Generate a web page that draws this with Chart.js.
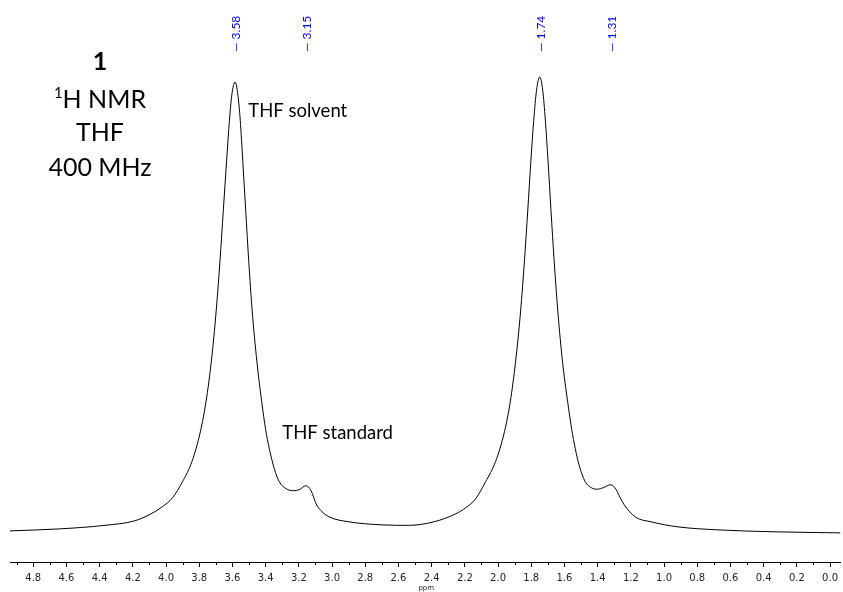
<!DOCTYPE html>
<html>
<head>
<meta charset="utf-8">
<script src="https://cdn.jsdelivr.net/npm/chart.js@4.4.1/dist/chart.umd.min.js"></script>
<style>
  html, body { margin: 0; padding: 0; background: #ffffff; }
  #wrap { width: 843px; height: 592px; position: relative; }
</style>
</head>
<body>
<div id="wrap"><canvas id="c" width="843" height="592"></canvas></div>
<script>
// ---- Data (chemical shift in ppm, intensity in arbitrary units) ----
const shiftPpm = [
  4.940, 4.640, 4.369, 4.189, 4.090, 4.023, 3.961, 3.901, 3.844, 3.793,
  3.759, 3.727, 3.698, 3.675, 3.655, 3.635, 3.618, 3.604, 3.584, 3.567,
  3.553, 3.538, 3.520, 3.502, 3.481, 3.453, 3.424, 3.400, 3.378, 3.348,
  3.318, 3.276, 3.234, 3.198, 3.158, 3.126, 3.096, 3.066, 3.018, 2.898,
  2.700, 2.538, 2.387, 2.255, 2.195, 2.135, 2.075, 2.015, 1.961, 1.926,
  1.894, 1.864, 1.841, 1.821, 1.802, 1.785, 1.768, 1.749, 1.731, 1.715,
  1.699, 1.681, 1.662, 1.640, 1.612, 1.581, 1.556, 1.535, 1.511, 1.475,
  1.438, 1.402, 1.366, 1.321, 1.288, 1.264, 1.240, 1.174, 1.078, 0.916,
  0.676, 0.315, -0.063
];
const signal = [
  31, 33, 36.5, 41, 48, 55, 64, 80, 100, 130,
  160, 200, 250, 300, 350, 400, 440, 465, 478, 465,
  440, 400, 350, 300, 250, 200, 160, 132, 113, 93,
  80, 73, 71, 72, 76, 71, 58, 51, 45, 40,
  37, 36.5, 40, 48, 54, 63, 80, 100, 130, 160,
  200, 250, 300, 350, 400, 440, 470, 483, 470, 440,
  400, 350, 300, 250, 200, 160, 132, 113, 96, 80,
  74, 72.5, 74, 77, 72, 64, 57, 45, 40, 35,
  32, 30, 29
];
// Picked peaks (labels at the top)
const peakPicks = [3.58, 3.15, 1.74, 1.31];
// Axis tick values (ppm)
const majorTicks = [4.8, 4.6, 4.4, 4.2, 4.0, 3.8, 3.6, 3.4, 3.2, 3.0, 2.8, 2.6, 2.4, 2.2, 2.0, 1.8, 1.6, 1.4, 1.2, 1.0, 0.8, 0.6, 0.4, 0.2, 0.0];
const minorTicks = [4.9, 4.7, 4.5, 4.3, 4.1, 3.9, 3.7, 3.5, 3.3, 3.1, 2.9, 2.7, 2.5, 2.3, 2.1, 1.9, 1.7, 1.5, 1.3, 1.1, 0.9, 0.7, 0.5, 0.3, 0.1];
// Texts
const infoLines = ['1', 'H NMR', 'THF', '400 MHz'];
const peakNotes = ['THF solvent', 'THF standard'];
const axisTitle = 'ppm';

// ---- Layout / style (kept separate from the data) ----
const notePos = [ {ppm: 3.505, y: 449}, {ppm: 3.30, y: 128} ];
const textFont = 'Lato, "Open Sans", sans-serif';

const points = shiftPpm.map((p, i) => ({x: p, y: signal[i]}));

const overlay = {
  id: 'overlay',
  afterDraw(chart) {
    const ctx = chart.ctx;
    const xs = chart.scales.x, ys = chart.scales.y;
    const area = chart.chartArea;
    ctx.save();
    // minor ticks
    ctx.strokeStyle = '#000';
    ctx.lineWidth = 1;
    ctx.beginPath();
    minorTicks.forEach(v => {
      const px = Math.round(xs.getPixelForValue(v)) + 0.5;
      ctx.moveTo(px, area.bottom);
      ctx.lineTo(px, area.bottom + 3);
    });
    ctx.stroke();

    // axis unit
    ctx.fillStyle = '#222';
    ctx.font = '7px "DejaVu Sans", sans-serif';
    ctx.textAlign = 'center';
    ctx.textBaseline = 'middle';
    ctx.fillText(axisTitle, (area.left + area.right) / 2 + 1, 588);

    // peak pick labels (rotated, blue)
    ctx.fillStyle = '#0000ff';
    ctx.font = '12px ' + textFont;
    ctx.textAlign = 'left';
    ctx.textBaseline = 'middle';
    peakPicks.forEach(v => {
      const px = xs.getPixelForValue(v);
      ctx.save();
      ctx.translate(px, 52);
      ctx.rotate(-Math.PI / 2);
      ctx.fillText('\u2014 ' + v.toFixed(2), 0, 0);
      ctx.restore();
    });

    // sample info block
    ctx.fillStyle = '#000';
    ctx.textAlign = 'center';
    ctx.textBaseline = 'middle';
    const cx = 100;
    ctx.font = 'bold 25px ' + textFont;
    ctx.fillText(infoLines[0], cx, 62);
    ctx.font = '25px ' + textFont;
    const mainW = ctx.measureText(infoLines[1]).width;
    ctx.font = '15px ' + textFont;
    const supW = ctx.measureText('1').width;
    const startX = cx - (mainW + supW) / 2;
    ctx.textAlign = 'left';
    ctx.fillText('1', startX, 93);
    ctx.font = '25px ' + textFont;
    ctx.fillText(infoLines[1], startX + supW, 100);
    ctx.textAlign = 'center';
    ctx.fillText(infoLines[2], cx, 133);
    ctx.fillText(infoLines[3], cx, 168);

    // peak notes
    ctx.font = '18.5px ' + textFont;
    ctx.textAlign = 'left';
    peakNotes.forEach((t, i) => {
      ctx.fillText(t, xs.getPixelForValue(notePos[i].ppm), ys.getPixelForValue(notePos[i].y));
    });
    ctx.restore();
  }
};

new Chart(document.getElementById('c'), {
  type: 'line',
  data: {
    datasets: [{
      data: points,
      borderColor: '#000000',
      borderWidth: 1,
      pointRadius: 0,
      fill: false,
      cubicInterpolationMode: 'monotone'
    }]
  },
  options: {
    responsive: false,
    devicePixelRatio: 1,
    animation: false,
    events: [],
    layout: { padding: { left: 10, right: 0, top: 60, bottom: 3 } },
    plugins: { legend: { display: false }, tooltip: { enabled: false }, title: { display: false } },
    scales: {
      x: {
        type: 'linear',
        reverse: true,
        min: -0.063,
        max: 4.94,
        afterBuildTicks: (scale) => { scale.ticks = majorTicks.map(v => ({value: v})); },
        ticks: {
          autoSkip: false,
          maxRotation: 0,
          minRotation: 0,
          padding: 5,
          color: '#222',
          font: { family: '"DejaVu Sans", sans-serif', size: 10 },
          callback: (v) => Number(v).toFixed(1)
        },
        grid: { display: true, drawOnChartArea: false, drawTicks: true, tickLength: 5, tickColor: '#000', color: '#000' },
        border: { display: true, color: '#000', width: 1 },
        title: { display: false }
      },
      y: {
        type: 'linear',
        display: false,
        min: 0,
        max: 500
      }
    }
  },
  plugins: [overlay]
});
</script>
</body>
</html>
